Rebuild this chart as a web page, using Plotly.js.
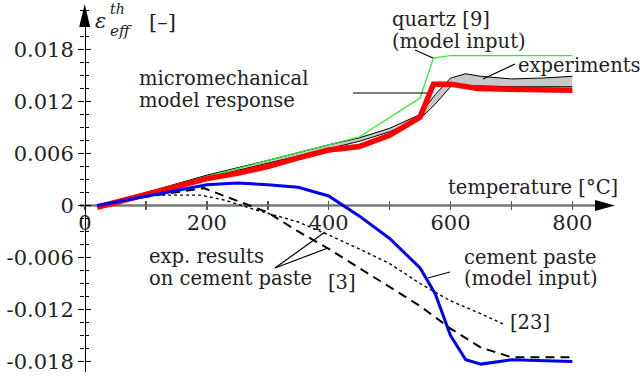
<!DOCTYPE html>
<html>
<head>
<meta charset="utf-8">
<script src="https://cdn.plot.ly/plotly-3.0.1.min.js"></script>
<style>
  html, body { margin: 0; padding: 0; background: #fff; }
  #chart { width: 640px; height: 376px; }
</style>
</head>
<body>
<div id="chart"></div>
<script>
// Effective thermal strain vs temperature

// experiments (grey band between lower and upper bound)
const expT      = [20, 100, 200, 300, 400, 450, 500, 550, 575, 600, 625, 650, 700, 750, 800];
const expUpper  = [0, 0.0015, 0.0035, 0.0052, 0.0070, 0.0078, 0.0089, 0.0105, 0.0128, 0.0147, 0.0152, 0.0149, 0.0146, 0.0147, 0.0149];
const expLower  = [0, 0.0012, 0.0032, 0.0049, 0.0066, 0.0074, 0.0085, 0.0100, 0.0117, 0.0137, 0.0138, 0.0138, 0.0137, 0.0137, 0.0137];

// quartz [9] (model input)
const quartzT   = [20, 100, 200, 300, 400, 450, 550, 572, 600, 800];
const quartzV   = [0, 0.0015, 0.0034, 0.0052, 0.0070, 0.0079, 0.0124, 0.0170, 0.0173, 0.0173];

// micromechanical model response
const modelT    = [20, 100, 150, 200, 250, 300, 350, 400, 450, 500, 550, 572, 600, 645, 700, 800];
const modelV    = [-0.0002, 0.0012, 0.0022, 0.0031, 0.0037, 0.0045, 0.0055, 0.0064, 0.0068, 0.0081, 0.0102, 0.0140, 0.0140, 0.0135, 0.0134, 0.0133];

// cement paste (model input)
const pasteT    = [20, 100, 200, 250, 300, 350, 400, 450, 500, 550, 575, 600, 625, 650, 700, 800];
const pasteV    = [0, 0.0011, 0.0024, 0.0026, 0.0024, 0.0021, 0.0011, -0.0012, -0.0038, -0.0072, -0.0102, -0.0150, -0.0178, -0.0183, -0.0178, -0.0180];

// exp. results on cement paste [3]
const ref3T     = [20, 100, 195, 250, 300, 350, 400, 450, 500, 550, 600, 650, 700, 800];
const ref3V     = [0, 0.0010, 0.0020, 0.0005, -0.0008, -0.0030, -0.0050, -0.0072, -0.0094, -0.0116, -0.0142, -0.0164, -0.0175, -0.0175];

// exp. results on cement paste [23]
const ref23T    = [20, 100, 190, 230, 280, 350, 400, 450, 500, 550, 600, 650, 690];
const ref23V    = [0, 0.0012, 0.0012, 0.0006, -0.0005, -0.0019, -0.0034, -0.0050, -0.0067, -0.0090, -0.0110, -0.0125, -0.0138];

// axis ticks
const xTickVals = [0, 200, 400, 600, 800];
const xTickText = ['0', '200', '400', '600', '800'];
const yTickVals = [-0.018, -0.012, -0.006, 0, 0.006, 0.012, 0.018];
const yTickText = ['-0.018', '-0.012', '-0.006', '0', '0.006', '0.012', '0.018'];

const W = 640, H = 376;
const M = { l: 85, r: 25, t: 5, b: 4 };
const xRange = [0, 870];
const yRange = [-0.01921, 0.02313];
const xAxisPos = (0 - yRange[0]) / (yRange[1] - yRange[0]);

const FONT = 'DejaVu Serif';
const TXT = '#222';

// pixel -> paper helpers for text placement
const pw = W - M.l - M.r, ph = H - M.t - M.b;
const px = x => (x - M.l) / pw;
const py = y => (H - M.b - y) / ph;

const traces = [
  { x: expT, y: expLower, mode: 'lines', line: { color: '#000', width: 1 }, hoverinfo: 'skip' },
  { x: expT, y: expUpper, mode: 'lines', line: { color: '#000', width: 1 }, fill: 'tonexty', fillcolor: '#c8c8c8', hoverinfo: 'skip' },
  { x: quartzT, y: quartzV, mode: 'lines', line: { color: '#22ee22', width: 1.2 } },
  { x: ref23T, y: ref23V, mode: 'lines', line: { color: '#000', width: 1.4, dash: 'dot' } },
  { x: ref3T, y: ref3V, mode: 'lines', line: { color: '#000', width: 2, dash: '9px,6px' } },
  { x: modelT, y: modelV, mode: 'lines', line: { color: '#ff0000', width: 5.5 } },
  { x: pasteT, y: pasteV, mode: 'lines', line: { color: '#0000ee', width: 3 } },
];

const leader = (x0, y0, x1, y1) => ({
  type: 'line', xref: 'paper', yref: 'paper',
  x0: px(x0), y0: py(y0), x1: px(x1), y1: py(y1),
  line: { color: '#000', width: 1.2 }
});

const shapes = [
  // y axis line
  { type: 'line', xref: 'x', yref: 'paper', x0: 0, x1: 0, y0: 0, y1: py(24), line: { color: '#000', width: 2 }, layer: 'above' },
  // x axis line
  { type: 'line', xref: 'paper', yref: 'y', x0: px(80), x1: px(600), y0: 0, y1: 0, line: { color: '#777', width: 2.5 }, layer: 'below' },
  // arrowheads
  { type: 'path', xref: 'paper', yref: 'paper', fillcolor: '#000', line: { width: 0 },
    path: `M ${px(615)} ${py(205.5)} L ${px(595)} ${py(200)} L ${px(595)} ${py(211)} Z` },
  { type: 'path', xref: 'paper', yref: 'paper', fillcolor: '#000', line: { width: 0 },
    path: `M ${px(84.7)} ${py(4)} L ${px(79.2)} ${py(27)} L ${px(90.2)} ${py(27)} Z` },
  // leaders
  leader(353, 93, 427, 93),
  leader(415, 50, 433, 58),
  leader(515, 64, 483, 79),
  leader(450, 272, 428, 278),
  leader(275, 268, 325, 232),
  leader(275, 268, 328, 248),
];

const ann = (text, x, y, size, xanchor, extra) => Object.assign({
  text, xref: 'paper', yref: 'paper', x: px(x), y: py(y),
  xanchor: xanchor || 'left', yanchor: 'middle', showarrow: false,
  font: { family: FONT, size: size || 19.5, color: TXT }
}, extra || {});

const annotations = [
  ann('<i>ε</i>', 93, 21, 21),
  ann('<i>th</i>', 108, 9, 14),
  ann('<i>eff</i>', 108, 31, 15),
  ann('[–]', 147, 22, 21),
  ann('micromechanical', 137, 79),
  ann('model response', 137, 101),
  ann('quartz [9]', 390, 19),
  ann('(model input)', 390, 41),
  ann('experiments', 516, 65),
  ann('temperature [°C]', 446, 187),
  ann('cement paste', 462, 257),
  ann('(model input)', 462, 279),
  ann('[23]', 508, 322),
  ann('[3]', 326, 282),
  ann('exp. results', 147, 256),
  ann('on cement paste', 147, 278),
];

const tickFont = { family: FONT, size: 21, color: TXT };

const layout = {
  width: W, height: H,
  margin: M,
  paper_bgcolor: '#fff', plot_bgcolor: '#fff',
  showlegend: false,
  xaxis: {
    range: xRange, anchor: 'free', position: xAxisPos,
    showgrid: false, zeroline: false, showline: false,
    tickmode: 'array', tickvals: xTickVals, ticktext: xTickText,
    ticks: 'outside', ticklen: 4, tickwidth: 1.5, tickcolor: '#555',
    minor: { dtick: 100, tick0: 0, ticks: 'outside', ticklen: 4, tickwidth: 1.5, tickcolor: '#555' },
    ticklabelstandoff: -6,
    tickfont: tickFont, fixedrange: true
  },
  xaxis2: {
    range: xRange, overlaying: 'x', anchor: 'free', position: xAxisPos,
    showgrid: false, zeroline: false, showline: false, showticklabels: false,
    tickmode: 'array', tickvals: xTickVals,
    ticks: 'inside', ticklen: 4, tickwidth: 1.5, tickcolor: '#555',
    minor: { dtick: 100, tick0: 0, ticks: 'inside', ticklen: 4, tickwidth: 1.5, tickcolor: '#555' },
    fixedrange: true
  },
  yaxis: {
    range: yRange, showgrid: false, zeroline: false, showline: false,
    tickmode: 'array', tickvals: yTickVals, ticktext: yTickText,
    ticks: 'outside', ticklen: 6, tickwidth: 1.5, tickcolor: '#000',
    minor: { dtick: 0.0015, tick0: 0, ticks: 'outside', ticklen: 4, tickwidth: 1.2, tickcolor: '#000' },
    tickfont: tickFont, fixedrange: true
  },
  yaxis2: {
    range: yRange, overlaying: 'y', anchor: 'x',
    showgrid: false, zeroline: false, showline: false, showticklabels: false,
    tickmode: 'array', tickvals: yTickVals,
    ticks: 'inside', ticklen: 6, tickwidth: 1.5, tickcolor: '#000',
    minor: { dtick: 0.0015, tick0: 0, ticks: 'inside', ticklen: 4, tickwidth: 1.2, tickcolor: '#000' },
    fixedrange: true
  },
  shapes, annotations
};

// invisible carrier so the overlay axes are drawn
traces.push({ x: [0], y: [0], xaxis: 'x2', yaxis: 'y2', mode: 'markers', marker: { opacity: 0 }, hoverinfo: 'skip' });

Plotly.newPlot('chart', traces, layout, { staticPlot: true, displayModeBar: false });
</script>
</body>
</html>
